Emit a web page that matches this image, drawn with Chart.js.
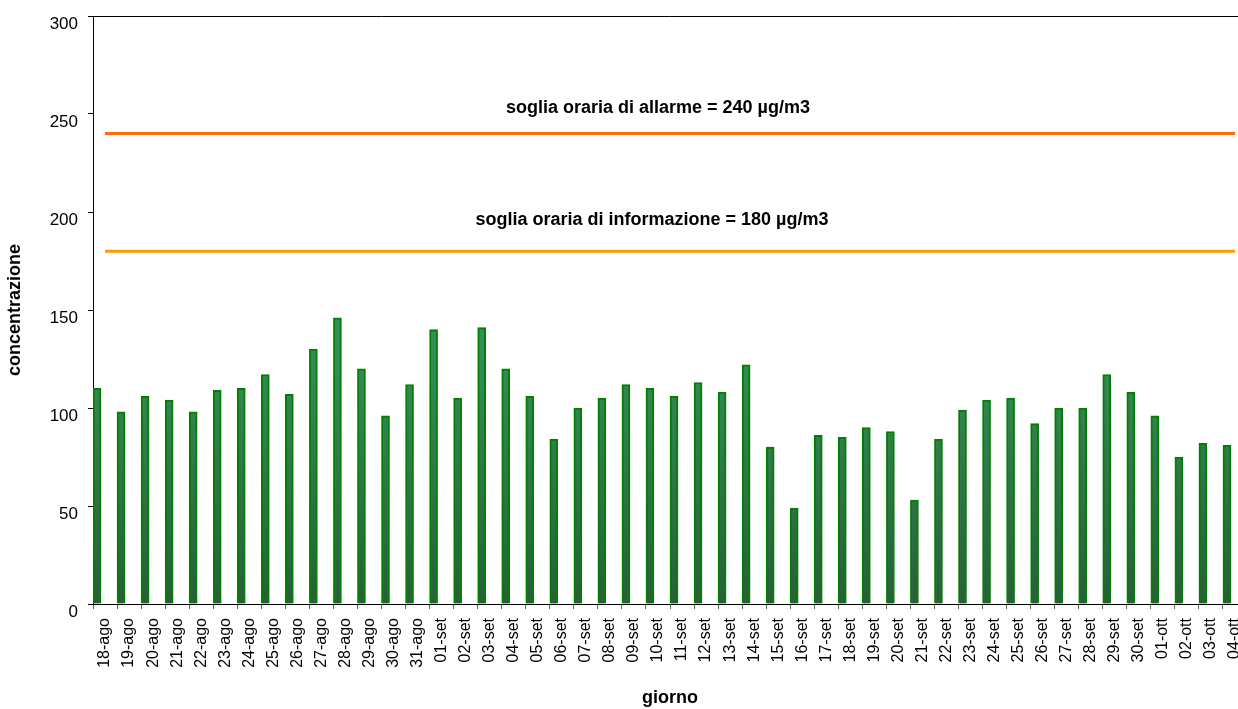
<!DOCTYPE html>
<html lang="it">
<head>
  <meta charset="UTF-8" />
  <title>Concentrazione giornaliera</title>
  <style>
    html, body {
      margin: 0;
      padding: 0;
      background: #fff;
      overflow: hidden;
    }
    /* the plot runs slightly past the window on the right, like the original */
    #wrap {
      width: 1247px;
      height: 709px;
    }
  </style>
</head>
<body>
  <div id="wrap"><canvas id="chart" width="1247" height="709"></canvas></div>

  <script src="https://cdn.jsdelivr.net/npm/chart.js"></script>
  <script>
    // Days on the x axis
    const giorni = [
      '18-ago', '19-ago', '20-ago', '21-ago', '22-ago', '23-ago', '24-ago', '25-ago', '26-ago', '27-ago',
      '28-ago', '29-ago', '30-ago', '31-ago',
      '01-set', '02-set', '03-set', '04-set', '05-set', '06-set', '07-set', '08-set', '09-set', '10-set',
      '11-set', '12-set', '13-set', '14-set', '15-set', '16-set', '17-set', '18-set', '19-set', '20-set',
      '21-set', '22-set', '23-set', '24-set', '25-set', '26-set', '27-set', '28-set', '29-set', '30-set',
      '01-ott', '02-ott', '03-ott', '04-ott'
    ];

    // Daily maximum concentration (µg/m3)
    const concentrazione = [
      110, 98, 106, 104, 98, 109, 110, 117, 107, 130, 146, 120, 96, 112,
      140, 105, 141, 120, 106, 84, 100, 105, 112, 110, 106, 113, 108, 122, 80, 49,
      86, 85, 90, 88, 53, 84, 99, 104, 105, 92, 100, 100, 117, 108,
      96, 75, 82, 81
    ];

    // Threshold lines
    const soglie = [240, 180];
    const coloriSoglie = ['#ff6a0d', '#ff9a00'];
    const testiSoglie = [
      'soglia oraria di allarme = 240 µg/m3',
      'soglia oraria di informazione = 180 µg/m3'
    ];

    const FONT = '"Liberation Sans", Arial, sans-serif';

    // Threshold captions plus the top/right frame of the plot area
    const etichetteSoglie = {
      id: 'etichetteSoglie',
      afterDatasetsDraw(chart) {
        const { ctx, chartArea, scales: { x, y } } = chart;
        ctx.save();
        ctx.font = 'bold 18px ' + FONT;
        ctx.fillStyle = '#000';
        ctx.textAlign = 'center';
        ctx.textBaseline = 'middle';
        const cx = x.getPixelForValue(23);
        ctx.fillText(testiSoglie[0], cx, y.getPixelForValue(soglie[0]) - 26);
        ctx.fillText(testiSoglie[1], cx - 6, y.getPixelForValue(soglie[1]) - 31);

        ctx.strokeStyle = '#000';
        ctx.lineWidth = 1;
        ctx.beginPath();
        ctx.moveTo(chartArea.left, chartArea.top + 0.5);
        ctx.lineTo(chartArea.right - 0.5, chartArea.top + 0.5);
        ctx.lineTo(chartArea.right - 0.5, chartArea.bottom);
        ctx.stroke();
        ctx.restore();
      }
    };

    // darker green at the base of the bars, lighter at the top
    function riempimentoBarre(c) {
      const { ctx, chartArea } = c.chart;
      if (!chartArea) return '#2e8b57';
      const g = ctx.createLinearGradient(0, chartArea.top, 0, chartArea.bottom);
      g.addColorStop(0, '#3fa36b');
      g.addColorStop(0.6, '#348a55');
      g.addColorStop(1, '#2b5c3d');
      return g;
    }

    const lineaSoglia = (i) => ({
      type: 'line',
      data: giorni.map(() => soglie[i]),
      borderColor: coloriSoglie[i],
      borderWidth: 3,
      pointRadius: 0,
      fill: false
    });

    new Chart(document.getElementById('chart'), {
      type: 'bar',
      data: {
        labels: giorni,
        datasets: [
          lineaSoglia(0),
          lineaSoglia(1),
          {
            label: 'concentrazione',
            data: concentrazione,
            backgroundColor: riempimentoBarre,
            borderColor: '#008000',
            borderWidth: 2,
            borderSkipped: 'start'
          },
          // two empty series: the bar sits in the left third of each day, as in the original
          { data: [] },
          { data: [] }
        ]
      },
      options: {
        responsive: false,
        animation: false,
        datasets: {
          bar: { categoryPercentage: 1, barPercentage: 1 }
        },
        layout: { padding: { top: 16, left: 0, right: 0, bottom: 0 } },
        plugins: {
          legend: { display: false },
          tooltip: { enabled: false }
        },
        scales: {
          x: {
            grid: {
              drawOnChartArea: false,
              drawTicks: true,
              tickLength: 5,
              color: '#666'
            },
            border: { display: true, color: '#000', width: 1 },
            ticks: {
              autoSkip: false,
              minRotation: 90,
              maxRotation: 90,
              padding: 9,
              color: '#000',
              font: { family: FONT, size: 16 }
            },
            title: {
              display: true,
              text: 'giorno',
              color: '#000',
              padding: { top: 0, bottom: 0 },
              font: { family: FONT, size: 18, weight: 'bold' }
            },
            afterFit(scale) {
              scale.height = 105;
              scale.paddingLeft = 0;
              scale.paddingRight = 0;
            }
          },
          y: {
            min: 0,
            max: 300,
            ticks: {
              stepSize: 50,
              padding: 10,
              labelOffset: 8,
              color: '#000',
              font: { family: FONT, size: 17 }
            },
            grid: {
              drawOnChartArea: false,
              drawTicks: true,
              tickLength: 5,
              color: '#000'
            },
            border: { display: true, color: '#000', width: 1 },
            title: {
              display: true,
              text: 'concentrazione',
              color: '#000',
              padding: { top: 4, bottom: 0 },
              font: { family: FONT, size: 18, weight: 'bold' }
            },
            afterFit(scale) {
              scale.width = 93;
              scale.paddingTop = 0;
              scale.paddingBottom = 0;
            }
          }
        }
      },
      plugins: [etichetteSoglie]
    });
  </script>
</body>
</html>
